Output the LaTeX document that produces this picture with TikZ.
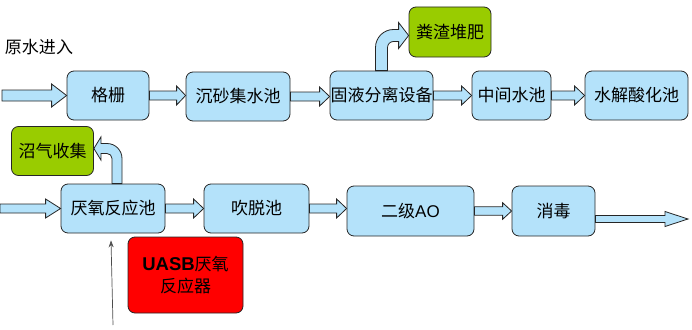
\documentclass[tikz,border=0pt]{standalone}
\usepackage{fontspec}
\setmainfont{Noto Sans CJK SC}
\newfontfamily\latinfont{Liberation Sans}
\usepackage{tikz}
\usetikzlibrary{arrows.meta,calc}
\definecolor{boxblue}{RGB}{180,226,250}
\definecolor{boxgreen}{RGB}{153,204,0}
\definecolor{boxred}{RGB}{255,0,0}

% straight block arrow: from, to, body half width, head half width, head length
\newcommand{\pipe}[5]{%
  \draw[flow] let \p1=(#1), \p2=(#2) in
    (\x1,\y1+#3) -- (\x2-#5,\y1+#3) -- (\x2-#5,\y1+#4) -- (\x2,\y1)
    -- (\x2-#5,\y1-#4) -- (\x2-#5,\y1-#3) -- (\x1,\y1-#3) -- cycle;}

\begin{document}
\begin{tikzpicture}[x=1pt, y=-1pt,
    every node/.style={font=\fontsize{17}{22}\selectfont, inner sep=0pt},
    unit/.style={rectangle, rounded corners=7pt, draw=black!85, line width=0.8pt, fill=boxblue, minimum height=49pt, align=center},
    product/.style={unit, fill=boxgreen},
    reactor/.style={unit, fill=boxred, minimum height=76pt},
    flow/.style={draw=black!85, line width=0.8pt, fill=boxblue},
    feedline/.style={-{Stealth[length=7pt,width=5pt]}, black!70, line width=0.7pt},
]
    \useasboundingbox (0,0) rectangle (692,329);

    % Raw water line
    \node (rawin) at (39,47) {原水进入};
    \node[unit, minimum width=82pt] (gezha) at (108,95.5) {格栅};
    \node[unit, minimum width=104pt] (chensha) at (238,96.5) {沉砂集水池};
    \node[unit, minimum width=103pt] (guye) at (381.5,95.5) {固液分离设备};
    \node[unit, minimum width=79pt] (zhongjian) at (511.5,95.5) {中间水池};
    \node[unit, minimum width=103pt] (shuijie) at (636.5,95.5) {水解酸化池};
    \node[product, minimum width=82pt, minimum height=50pt] (fenzha) at (450,32) {粪渣堆肥};

    % Anaerobic line
    \node[product, minimum width=82pt] (zhaoqi) at (52.5,151) {沼气收集};
    \node[unit, minimum width=104pt] (yanyang) at (113,208.5) {厌氧反应池};
    \node[unit, minimum width=105pt] (chuitu) at (256.5,208.5) {吹脱池};
    \node[unit, minimum width=127pt, minimum height=50pt] (erji) at (410.5,211) {二级{\latinfont AO}};
    \node[unit, minimum width=83pt, minimum height=50pt] (xiaodu) at (553.5,211) {消毒};
    \node[reactor, minimum width=115pt] (uasb) at (185.5,275) {{\latinfont\bfseries\fontsize{18.5}{22}\selectfont UASB}厌氧\\反应器};

    \coordinate (in1) at (2,95.5);
    \coordinate (in2) at (0,208.5);
    \coordinate (out) at (688,219);
    \coordinate (feed) at (113,325);

    % Flow arrows
    \pipe{in1}{gezha.west}{5.5pt}{11.5pt}{15pt}
    \pipe{gezha.east}{chensha.west}{4.5pt}{9.5pt}{9pt}
    \pipe{chensha.east}{guye.west}{4.5pt}{9.5pt}{10pt}
    \pipe{guye.east}{zhongjian.west}{4.5pt}{9.5pt}{10pt}
    \pipe{zhongjian.east}{shuijie.west}{4.5pt}{9.5pt}{10pt}
    \pipe{in2}{yanyang.west}{4.5pt}{9.5pt}{15pt}
    \pipe{yanyang.east}{chuitu.west}{4.5pt}{9.5pt}{10pt}
    \pipe{chuitu.east}{erji.west}{4.5pt}{9.5pt}{10pt}
    \pipe{erji.east}{xiaodu.west}{4.2pt}{8.3pt}{9pt}
    \pipe{[yshift=-8pt]xiaodu.east}{out}{3.5pt}{7.5pt}{23pt}

    % Bent arrows to the green boxes
    \draw[flow] let \p1=(guye.north), \p2=([yshift=-3.5pt]fenzha.west) in
        (\x1-6pt,\y1) -- (\x1-6pt,\y2-12pt) arc[start angle=180, end angle=90, radius=18pt]
        -- (\x2-10pt,\y2+6pt) -- (\x2-10pt,\y2+13pt) -- (\x2,\y2) -- (\x2-10pt,\y2-13pt)
        -- (\x2-10pt,\y2-6pt) -- (\x1+12pt,\y2-6pt) arc[start angle=90, end angle=180, radius=6pt]
        -- (\x1+6pt,\y1) -- cycle;
    \draw[flow] let \p1=([xshift=4pt]yanyang.north), \p2=([yshift=2.5pt]zhaoqi.east) in
        (\x1+5pt,\y1) -- (\x1+5pt,\y2-10pt) arc[start angle=0, end angle=90, radius=15pt]
        -- (\x2+7pt,\y2+5pt) -- (\x2+7pt,\y2+11.5pt) -- (\x2,\y2) -- (\x2+7pt,\y2-11.5pt)
        -- (\x2+7pt,\y2-5pt) -- (\x1-10pt,\y2-5pt) arc[start angle=90, end angle=0, radius=5pt]
        -- (\x1-5pt,\y1) -- cycle;

    % Feed line
    \draw[feedline] (feed) -- ([xshift=-2pt,yshift=-7pt]yanyang.south);
\end{tikzpicture}
\end{document}
